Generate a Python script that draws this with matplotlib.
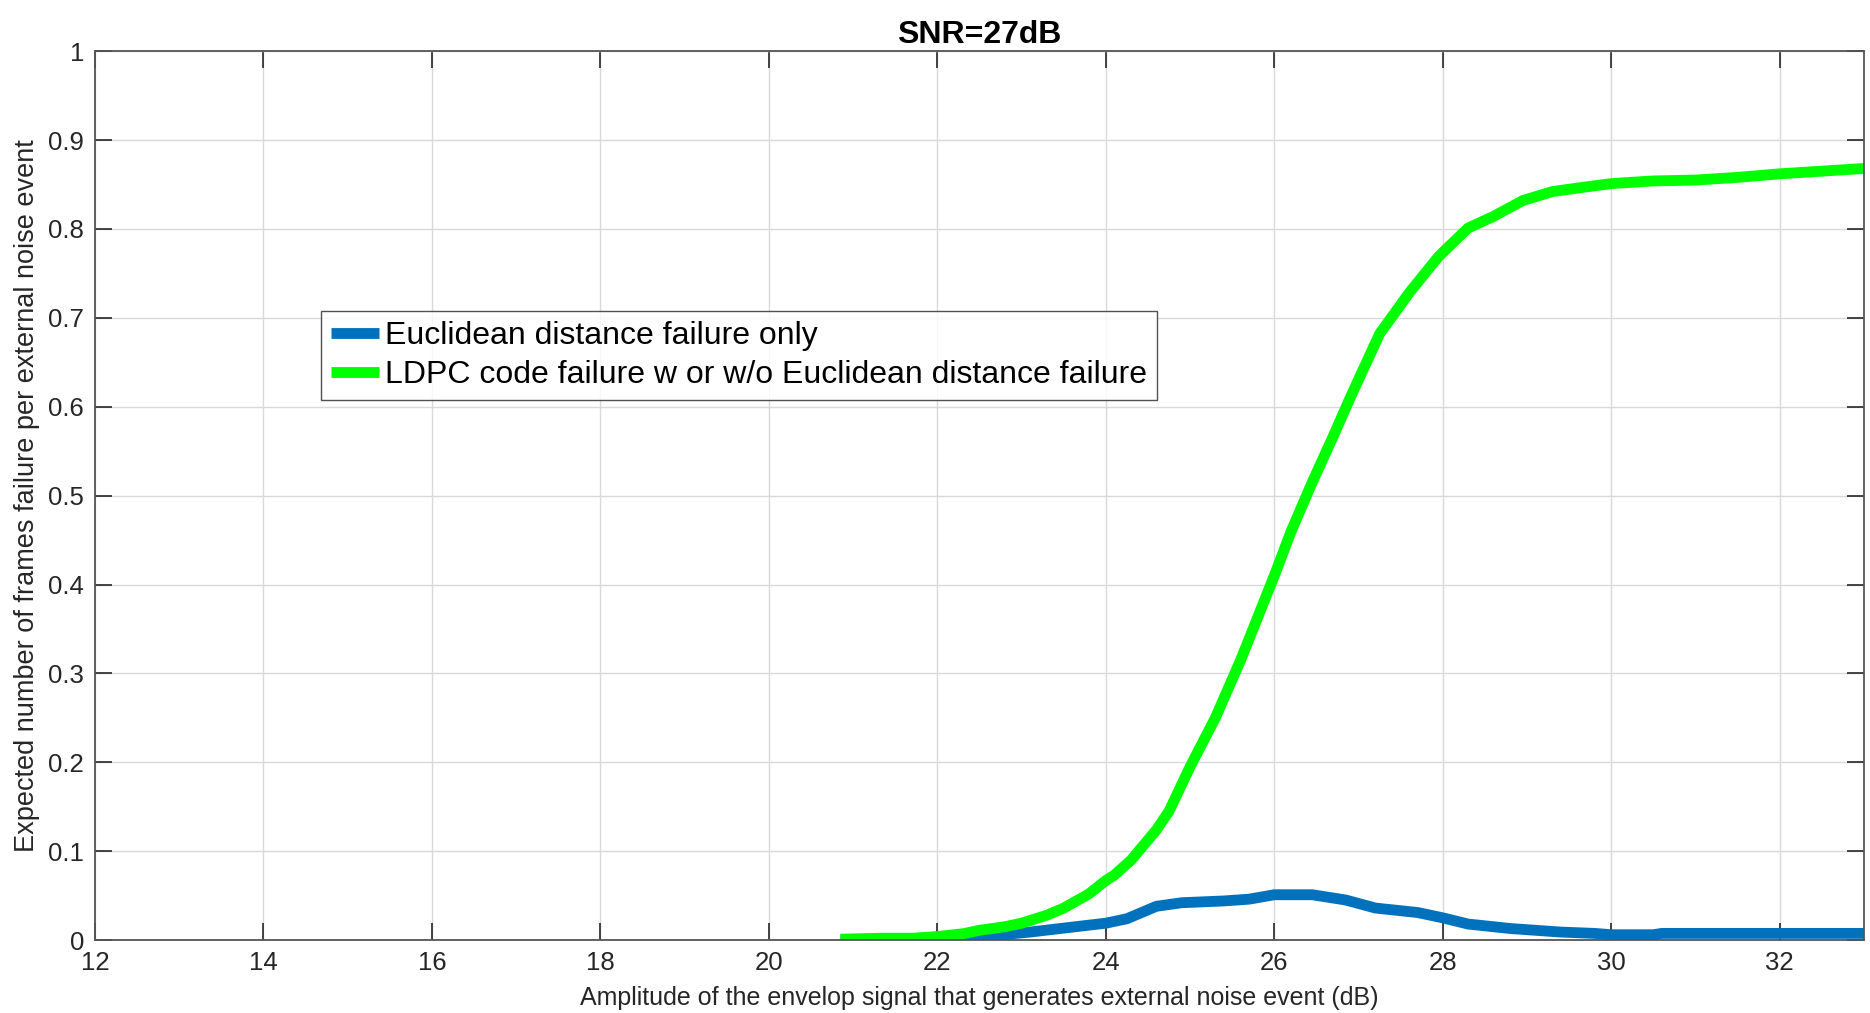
import numpy as np
import matplotlib.pyplot as plt

# values
x_ldpc = [20.85, 21.3, 21.7, 22.0, 22.3, 22.5, 22.8, 23.0, 23.3, 23.5, 23.8, 24.0, 24.1,
          24.3, 24.6, 24.75, 25.0, 25.3, 25.6, 26.0, 26.2, 26.45, 26.7, 26.9, 27.25,
          27.6, 27.95, 28.3, 28.6, 28.95, 29.3, 29.6, 30.0, 30.5, 31.0, 31.5, 32.0, 32.5, 33.0]
y_ldpc = [0.001, 0.002, 0.002, 0.004, 0.007, 0.011, 0.015, 0.019, 0.028, 0.036, 0.052, 0.067, 0.073,
          0.09, 0.124, 0.145, 0.195, 0.25, 0.315, 0.41, 0.46, 0.515, 0.567, 0.61, 0.682,
          0.728, 0.769, 0.801, 0.814, 0.832, 0.842, 0.846, 0.851, 0.854, 0.855, 0.858, 0.862, 0.865, 0.868]

x_eucl = [20.85, 21.5, 22.0, 22.3, 22.65, 23.1, 23.55, 24.0, 24.25, 24.6, 24.9, 25.4, 25.7,
          26.0, 26.45, 26.85, 27.2, 27.7, 28.0, 28.3, 28.8, 29.4, 29.8, 30.0, 30.5, 30.6, 31.5, 32.5, 33.0]
y_eucl = [0.0, 0.0, 0.0, 0.002, 0.005, 0.009, 0.014, 0.019, 0.024, 0.038, 0.042, 0.044, 0.046,
          0.051, 0.051, 0.045, 0.036, 0.031, 0.025, 0.018, 0.013, 0.009, 0.0075, 0.006, 0.006, 0.0075, 0.0075, 0.0075, 0.0075]

labels = ["Euclidean distance failure only",
          "LDPC code failure w or w/o Euclidean distance failure"]
xticks = np.arange(12, 33, 2)
yticks = np.round(np.arange(0, 1.01, 0.1), 1)

axc = "#262626"
plt.rcParams['font.family'] = ['Liberation Sans', 'DejaVu Sans']

fig = plt.figure(figsize=(18.7, 10.13), dpi=100)
ax = fig.add_axes([0.0508, 0.072, 0.946, 0.8775])

ax.plot(x_eucl, y_eucl, color="#0072BD", lw=7.8, label=labels[0], solid_capstyle='butt')
ax.plot(x_ldpc, y_ldpc, color="#00FF00", lw=7.8, label=labels[1], solid_capstyle='butt')

ax.set_xlim(12, 33)
ax.set_ylim(0, 1)
ax.set_xticks(xticks)
ax.set_yticks(yticks)
ax.set_yticklabels(["0" if v == 0 else ("1" if v == 1 else f"{v:g}") for v in yticks])
ax.grid(True, color="#d9d9d9", lw=1.0)
ax.set_axisbelow(True)
ax.tick_params(direction='in', length=12, width=1.2, colors=axc, labelsize=18.5,
               top=True, right=True, pad=8)
for s in ax.spines.values():
    s.set_color("#555555")
    s.set_linewidth(1.3)

ax.set_title("SNR=27dB", fontsize=23, fontweight='bold', color='black', pad=6)
ax.set_xlabel("Amplitude of the envelop signal that generates external noise event (dB)",
              fontsize=18, color=axc, labelpad=8)
ax.set_ylabel("Expected number of frames failure per external noise event",
              fontsize=19.5, color=axc, labelpad=6)

leg = ax.legend(loc='upper left', bbox_to_anchor=(0.1278, 0.7075), borderaxespad=0,
                fontsize=23, frameon=True, fancybox=False, handlelength=1.5,
                handletextpad=0.2, labelspacing=0.3, borderpad=0.3)
leg.get_frame().set_edgecolor("#262626")
leg.get_frame().set_linewidth(1.0)

fig.savefig("out.png", dpi=100)
